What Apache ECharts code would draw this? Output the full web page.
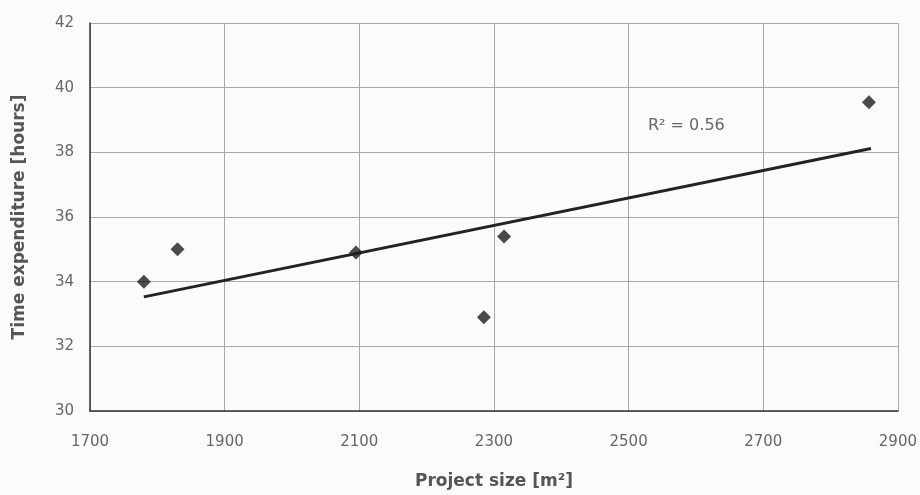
<!DOCTYPE html>
<html>
<head>
<meta charset="utf-8">
<script src="https://cdn.jsdelivr.net/npm/echarts@6/dist/echarts.min.js"></script>
<style>
  html, body { margin: 0; padding: 0; background: #fbfbfb; }
  #chart { width: 920px; height: 495px; }
</style>
</head>
<body>
<div id="chart"></div>
<script>
// project size [m2] and time [hours]
const projectSize = [1780, 1830, 2095, 2285, 2315, 2857];
const timeHours = [34.0, 35.0, 34.9, 32.9, 35.4, 39.55];

// linear trend line end points
const trendX = [1780, 2860];
const trendY = [33.53, 38.12];

const rSquared = "R² = 0.56";

const points = projectSize.map((x, i) => [x, timeHours[i]]);
const trend = trendX.map((x, i) => [x, trendY[i]]);

const chart = echarts.init(document.getElementById('chart'), null, { renderer: 'canvas' });

const font = 'DejaVu Sans, sans-serif';

chart.setOption({
    backgroundColor: '#fbfbfb',
    animation: false,
    grid: { left: 90, right: 22, top: 23, bottom: 83 },
    xAxis: {
        type: 'value',
        min: 1700, max: 2900, interval: 200,
        name: 'Project size [m²]',
        nameLocation: 'middle',
        nameGap: 62,
        nameTextStyle: { fontFamily: font, fontSize: 17, fontWeight: 'bold', color: '#555' },
        axisLine: { lineStyle: { color: '#333', width: 1.5 } },
        axisTick: { show: false },
        axisLabel: { fontFamily: font, fontSize: 15, color: '#666', margin: 24, formatter: v => String(v) },
        splitLine: { show: true, lineStyle: { color: '#a8a8a8', width: 1 } }
    },
    yAxis: {
        type: 'value',
        min: 30, max: 42, interval: 2,
        name: 'Time expenditure [hours]',
        nameLocation: 'middle',
        nameGap: 62,
        nameTextStyle: { fontFamily: font, fontSize: 17, fontWeight: 'bold', color: '#555' },
        axisLine: { show: true, lineStyle: { color: '#333', width: 1.5 } },
        axisTick: { show: false },
        axisLabel: { fontFamily: font, fontSize: 15, color: '#666', margin: 16 },
        splitLine: { show: true, lineStyle: { color: '#a8a8a8', width: 1 } }
    },
    graphic: [{
        type: 'text',
        left: 648, top: 118,
        style: { text: rSquared, fontFamily: font, fontSize: 16, fill: '#666' }
    }],
    series: [{
        type: 'line',
        data: trend,
        symbol: 'none',
        lineStyle: { color: '#222', width: 3 },
        z: 2
    }, {
        type: 'scatter',
        data: points,
        symbol: 'diamond',
        symbolSize: 14,
        itemStyle: { color: '#1e1e1e' },
        z: 3
    }]
});
</script>
</body>
</html>
